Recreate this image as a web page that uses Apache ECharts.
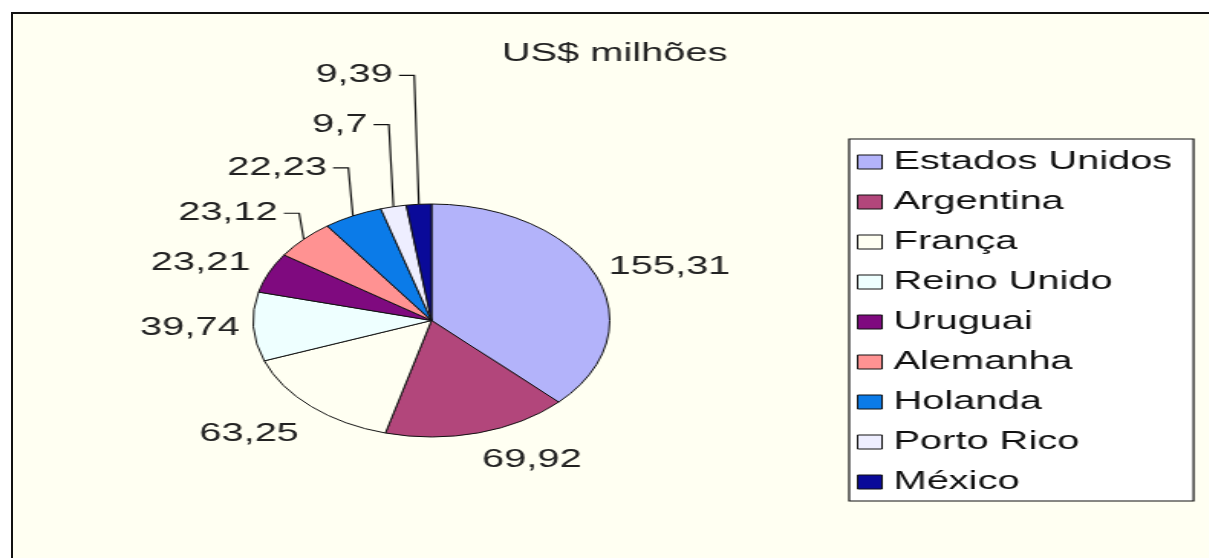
<!DOCTYPE html>
<html>
<head>
<meta charset="utf-8">
<script src="https://cdn.jsdelivr.net/npm/echarts@6/dist/echarts.min.js"></script>
<style>
html, body { margin: 0; padding: 0; background: #fff; overflow: hidden; }
#frame {
    position: absolute; left: 11px; top: 12px;
    width: 1300px; height: 600px;
    border-top: 2px solid #111; border-left: 2px solid #111;
    background: #FFFFF2;
}
/* the source picture is stretched sideways, so the chart is too */
#chart {
    position: absolute; left: 0; top: 0;
    width: 790px; height: 558px;
    transform: scaleX(1.53); transform-origin: 0 0;
}
</style>
</head>
<body>
<div id="frame"></div>
<div id="chart"></div>
<script>
// dados (US$ milhões)
const countries = ['Estados Unidos', 'Argentina', 'França', 'Reino Unido', 'Uruguai', 'Alemanha', 'Holanda', 'Porto Rico', 'México'];
const values = [155.31, 69.92, 63.25, 39.74, 23.21, 23.12, 22.23, 9.7, 9.39];
const colors = ['#B3B3FA', '#B2467B', '#FFFFF2', '#EEFFFF', '#7F0A7F', '#FF9292', '#0B7BE8', '#EEEEFF', '#0A0A99'];

// label placement: radial length for the plain labels, small nudges,
// and how high the stepped leader lines of the small slices rise
const lineLen = [8, 24, 30, 4, 10, 36, 53, 84, 130];
const labelNudge = [[-4, -5], [-9, 4], [17, 5], [0, 1], [2, -6], [0, 0], [0, 0], [0, 0], [0, 0]];
const stepRise = [0, 0, 0, 0, 0, -26, -48, -82, -129];

const font = 'Liberation Sans, Arial, sans-serif';
const chart = echarts.init(document.getElementById('chart'));

let pieData = countries.map((name, i) => ({
    name: name,
    value: values[i],
    itemStyle: { color: colors[i] },
    labelLine: { show: stepRise[i] !== 0, length: lineLen[i], length2: 0 }
}));

// Excel style leader: up from the slice edge, then a short tick towards the text
function placeLabel(p) {
    let i = p.dataIndex;
    if (!stepRise[i]) {
        return { dx: labelNudge[i][0], dy: labelNudge[i][1] };
    }
    let [ex, ey] = p.labelLinePoints[0];
    let y = ey + stepRise[i];
    let bx = ex - 3;
    let hx = bx - 10;
    return {
        x: hx - 4,
        y: y,
        align: 'right',
        verticalAlign: 'middle',
        labelLinePoints: [[ex, ey], [bx, y], [hx, y]]
    };
}

let option = {
    animation: false,
    title: {
        text: 'US$ milhões',
        left: 323,
        top: 36,
        textStyle: { fontFamily: font, fontSize: 26, fontWeight: 'normal', color: '#222' }
    },
    legend: {
        orient: 'vertical',
        left: 555,
        top: 139,
        padding: [10, 14, 6, 5],
        itemGap: 14,
        itemWidth: 16,
        itemHeight: 14,
        itemStyle: { borderColor: '#111', borderWidth: 1 },
        icon: 'rect',
        backgroundColor: '#fff',
        borderColor: '#111',
        borderWidth: 1.2,
        textStyle: { fontFamily: font, fontSize: 26, lineHeight: 26, color: '#111', padding: [0, 0, 0, 2.5] },
        data: countries
    },
    series: [{
        type: 'pie',
        center: [282, 320.5],
        radius: 116.5,
        startAngle: 90,
        clockwise: true,
        avoidLabelOverlap: false,
        itemStyle: { borderColor: '#111', borderWidth: 1 },
        label: {
            show: true,
            position: 'outside',
            fontFamily: font,
            fontSize: 26,
            color: '#222',
            formatter: (p) => String(p.value).replace('.', ',')
        },
        labelLine: { lineStyle: { color: '#111', width: 1.2 } },
        labelLayout: placeLabel,
        emphasis: { disabled: true },
        data: pieData
    }]
};
chart.setOption(option);
</script>
</body>
</html>
